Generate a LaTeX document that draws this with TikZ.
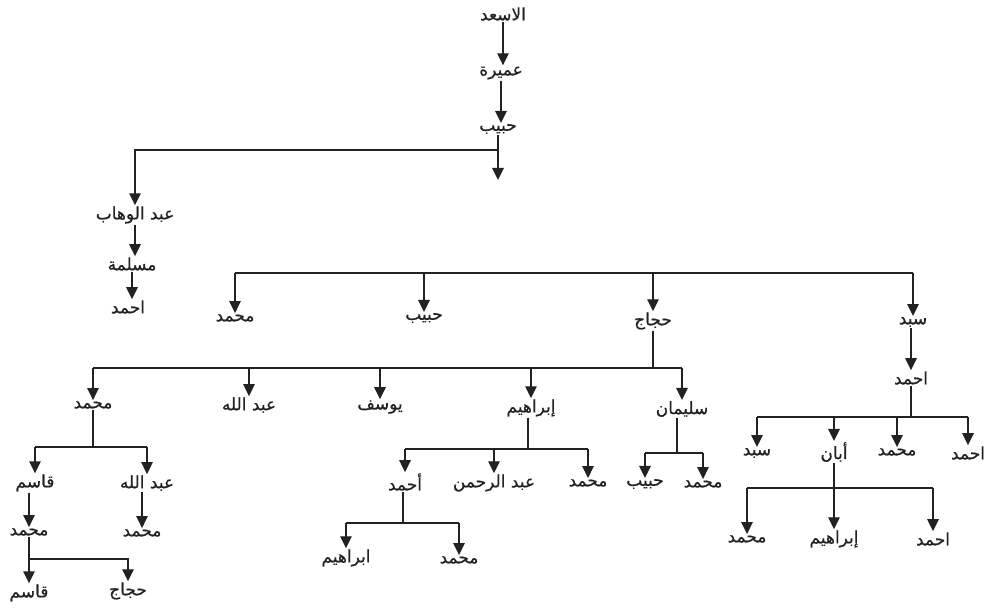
\documentclass[tikz,border=0pt]{standalone}
\usepackage{fontspec}
\newfontfamily\arabicfont[Script=Arabic,FakeBold=0.6]{DejaVu Sans}
\TeXXeTstate=1
\usetikzlibrary{arrows.meta}
\newcommand\artxt[1]{{\arabicfont\beginR #1\endR}}
\definecolor{ink}{HTML}{222222}
\begin{document}
\begin{tikzpicture}[x=1pt,y=-1pt,
  nm/.style={inner sep=1pt, font=\fontsize{17}{19}\selectfont, text=ink},
  ln/.style={draw=ink, line width=1.4pt},
  arr/.style={ln, -{Triangle[width=11.5pt,length=12pt]}}]
\useasboundingbox[fill=white] (0,0) rectangle (990,609);
% nodes
\node[nm] (asad) at (503,14) {\artxt{الاسعد}};
\node[nm] (umayra) at (501,73) {\artxt{عميرة}};
\node[nm] (habib0) at (498,129) {\artxt{حبيب}};
\node[nm] (wahhab) at (135,215) {\artxt{عبد الوهاب}};
\node[nm] (maslama) at (132,264) {\artxt{مسلمة}};
\node[nm] (ahmadL) at (128,307) {\artxt{احمد}};
\node[nm] (muh1) at (235,318) {\artxt{محمد}};
\node[nm] (habib1) at (424,318) {\artxt{حبيب}};
\node[nm] (hajjaj) at (653,321) {\artxt{حجاج}};
\node[nm] (sabd) at (913,322) {\artxt{سبد}};
\node[nm] (ahmadS) at (911,378) {\artxt{احمد}};
\node[nm] (muh2) at (93,405) {\artxt{محمد}};
\node[nm] (abdallah1) at (249,405) {\artxt{عبد الله}};
\node[nm] (yusuf) at (380,407) {\artxt{يوسف}};
\node[nm] (ibrahim1) at (531,408) {\artxt{إبراهيم}};
\node[nm] (sulayman) at (682,409) {\artxt{سليمان}};
\node[nm] (qasim1) at (35,483) {\artxt{قاسم}};
\node[nm] (abdallah2) at (147,483) {\artxt{عبد الله}};
\node[nm] (muh3) at (29,532) {\artxt{محمد}};
\node[nm] (muh4) at (142,533) {\artxt{محمد}};
\node[nm] (qasim2) at (29,593) {\artxt{قاسم}};
\node[nm] (hajjaj2) at (128,591) {\artxt{حجاج}};
\node[nm] (ahmad2) at (405,482) {\artxt{أحمد}};
\node[nm] (abdrahman) at (494,483) {\artxt{عبد الرحمن}};
\node[nm] (muh5) at (588,483) {\artxt{محمد}};
\node[nm] (ibrahim2) at (346,558) {\artxt{ابراهيم}};
\node[nm] (muh6) at (459,560) {\artxt{محمد}};
\node[nm] (habib2) at (645,484) {\artxt{حبيب}};
\node[nm] (muh7) at (703,484) {\artxt{محمد}};
\node[nm] (sabd2) at (757,453) {\artxt{سبد}};
\node[nm] (aban) at (834,452) {\artxt{أبان}};
\node[nm] (muh8) at (897,452) {\artxt{محمد}};
\node[nm] (ahmad3) at (968,453) {\artxt{احمد}};
\node[nm] (muh9) at (747,539) {\artxt{محمد}};
\node[nm] (ibrahim3) at (834,539) {\artxt{إبراهيم}};
\node[nm] (ahmad4) at (933,539) {\artxt{احمد}};
% junction coordinates
\coordinate (j0) at (498,150);
\coordinate (cont) at (498,180);
\coordinate (j1) at (653,273);
\coordinate (j2) at (653,368);
\coordinate (j3) at (93,447);
\coordinate (j4) at (29,559);
\coordinate (j5) at (528,449);
\coordinate (j6) at (403,523);
\coordinate (j7) at (677,453);
\coordinate (j8) at (911,417);
\coordinate (j9) at (834,488);
% top chain
\draw[arr] (asad.south) -- (asad.south |- umayra.north);
\draw[arr] (umayra.south) -- (umayra.south |- habib0.north);
\draw[arr] (habib0.south) -- (cont);
\draw[arr] (j0) -| (wahhab.north);
\draw[arr] (wahhab.south) -- (wahhab.south |- maslama.north);
\draw[arr] (maslama.south) -- (maslama.south |- ahmadL.north);
% generation bar
\draw[ln] (muh1 |- j1) -- (sabd |- j1);
\foreach \n in {muh1,habib1,hajjaj,sabd} \draw[arr] (\n |- j1) -- (\n.north);
% hajjaj
\draw[ln] (hajjaj.south) -- (j2);
\draw[ln] (muh2 |- j2) -- (sulayman |- j2);
\foreach \n in {muh2,abdallah1,yusuf,ibrahim1,sulayman} \draw[arr] (\n |- j2) -- (\n.north);
% muh2
\draw[ln] (muh2.south) -- (j3);
\draw[ln] (qasim1 |- j3) -- (abdallah2 |- j3);
\foreach \n in {qasim1,abdallah2} \draw[arr] (\n |- j3) -- (\n.north);
\draw[arr] (qasim1.south -| muh3) -- (muh3.north);
\draw[arr] (abdallah2.south -| muh4) -- (muh4.north);
\draw[arr] (muh3.south) -- (qasim2.north);
\draw[arr] (j4) -| (hajjaj2.north);
% ibrahim1
\draw[ln] (ibrahim1.south -| j5) -- (j5);
\draw[ln] (ahmad2 |- j5) -- (muh5 |- j5);
\foreach \n in {ahmad2,abdrahman,muh5} \draw[arr] (\n |- j5) -- (\n.north);
\draw[ln] (ahmad2.south -| j6) -- (j6);
\draw[ln] (ibrahim2 |- j6) -- (muh6 |- j6);
\foreach \n in {ibrahim2,muh6} \draw[arr] (\n |- j6) -- (\n.north);
% sulayman
\draw[ln] (sulayman.south -| j7) -- (j7);
\draw[ln] (habib2 |- j7) -- (muh7 |- j7);
\foreach \n in {habib2,muh7} \draw[arr] (\n |- j7) -- (\n.north);
% sabd
\draw[arr] (sabd.south -| ahmadS) -- (ahmadS.north);
\draw[ln] (ahmadS.south) -- (j8);
\draw[ln] (sabd2 |- j8) -- (ahmad3 |- j8);
\foreach \n in {sabd2,aban,muh8,ahmad3} \draw[arr] (\n |- j8) -- (\n.north);
% aban
\draw[arr] (aban.south) -- (ibrahim3.north);
\draw[ln] (muh9 |- j9) -- (ahmad4 |- j9);
\foreach \n in {muh9,ahmad4} \draw[arr] (\n |- j9) -- (\n.north);
\end{tikzpicture}
\end{document}
